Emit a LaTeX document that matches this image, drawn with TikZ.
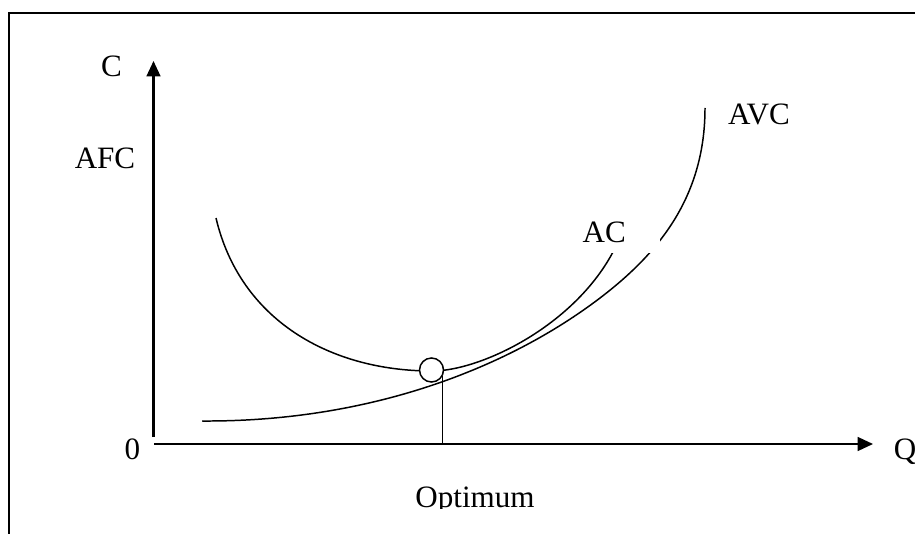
\documentclass[tikz,border=0pt]{standalone}
\usepackage{fontspec}
\setmainfont{Liberation Serif}
\usepackage{tikz}
\usetikzlibrary{arrows.meta}
\definecolor{ink}{RGB}{0,0,0}
\tikzset{
  axis/.style={line width=0.75pt, color=ink, -{Triangle[length=0.2cm, width=0.18cm]}},
  costcurve/.style={line width=0.55pt, color=ink},
  dropline/.style={line width=0.4pt, color=ink},
  lbl/.style={font=\fontsize{11.5}{13}\selectfont, inner sep=0pt, text=ink},
  optmark/.style={circle, draw=ink, fill=white, line width=0.55pt,
    minimum size=0.312cm, inner sep=0pt}
}

\begin{document}
\begin{tikzpicture}[x=0.013cm, y=-0.013cm]
  \useasboundingbox (0,0) rectangle (915,534);
  % Frame
  \draw[line width=0.5pt] (9,13) rectangle (940,560);

  % Axes
  \coordinate (origin) at (154,444);
  \coordinate (ybot) at (153.5,437);
  \coordinate (ytop) at (153.5,61);
  \coordinate (xend) at (873,444);
  \draw[axis] (ybot) -- (ytop);
  \draw[axis] (origin) -- (xend);

  % AVC
  \draw[costcurve] (202,421) .. controls (370,422) and (508,368) .. (600,298)
    .. controls (655,256) and (705,200) .. (705,108);
  % AC
  \draw[costcurve] (216,218) .. controls (240,320) and (330,371) .. (432,371)
    .. controls (485,371) and (590,318) .. (622,232);

  % Minimum of AC
  \node[optmark] (opt) at (431.5,370) {};
  \draw[dropline] (opt.-29) -- (opt.-29 |- origin);

  % Labels
  \node[lbl, anchor=base] (lc) at (111.5,77) {C};
  \node[lbl, anchor=base] (lafc) at (105,169) {AFC};
  \node[lbl, anchor=base] (lavc) at (759,125) {AVC};
  \node[lbl, fill=white, inner xsep=0.052cm, inner ysep=0.13cm, text width=0.949cm,
    align=left, anchor=base west] (lac) at (578,243) {AC};
  \node[lbl, anchor=base] (lzero) at (132.5,459) {0};
  \node[lbl, anchor=base] (lq) at (905,459) {Q};
  \begin{scope}
    \clip (300,470) rectangle (650,508);
    \node[lbl, anchor=base] (lopt) at (475,507) {Optimum};
  \end{scope}
\end{tikzpicture}
\end{document}
